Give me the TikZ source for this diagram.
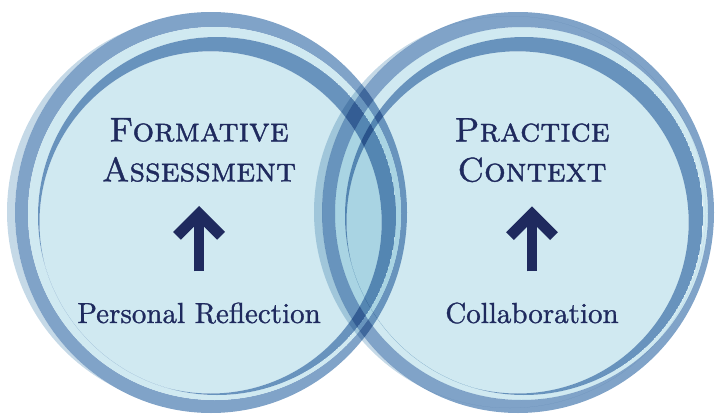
\documentclass[tikz,border=0pt]{standalone}
\usepackage{fontspec}
\newfontfamily\headfont{lmromancaps10-regular}[Extension=.otf, FakeBold=1.2]
\newfontfamily\subfont{lmroman10-regular}[Extension=.otf, FakeBold=1.0]
\usetikzlibrary{arrows.meta, positioning}
\definecolor{paleedge}{HTML}{C5D9E7}
\definecolor{ringmid}{HTML}{80A3C8}
\definecolor{ringdark}{HTML}{6893BD}
\definecolor{discfill}{HTML}{D0E9F1}
\definecolor{inknavy}{HTML}{1F2A5E}

\begin{document}
\begin{tikzpicture}[x=1pt, y=-1pt,
  rings/.pic={
    % pale rim
    \begin{scope}
      \clip (203,212) circle (196);
      \fill[paleedge, even odd rule] (203,212) circle (196) (211,212.5) ellipse (196 and 200.5);
    \end{scope}
    % outer band
    \fill[ringmid, even odd rule] (211,212.5) ellipse (196 and 200.5) (214.5,213.5) circle (186.5);
    % disc and inner crescent
    \fill[discfill, even odd rule] (214.5,213.5) circle (186.5) (217,216) circle (179);
    \begin{scope}
      \clip (217,216) circle (179);
      \fill[discfill] (210.6,222.4) circle (171.1);
      \fill[ringdark, even odd rule] (217,216) circle (179) (210.6,222.4) circle (171.1);
    \end{scope}
  },
  headtext/.style={font=\fontsize{34}{40}\selectfont\headfont, text=inknavy, align=center, inner sep=0pt, anchor=north},
  subtext/.style={font=\fontsize{29}{35}\selectfont\subfont, text=inknavy, inner sep=0pt, anchor=base},
  uparrow/.style={-{Straight Barb[length=22pt, width=44pt, line width=11pt]}, line width=10pt, draw=inknavy}
]
  \useasboundingbox (0,0) rectangle (715,415);

  % Circles
  \pic at (0,0) {rings};
  \begin{scope}[blend mode=multiply]
    \pic at (307,0) {rings};
  \end{scope}

  % Left circle
  \node[headtext] (fa) at (199,118) {Formative\\Assessment};
  \node[subtext] (pr) at (199,323) {Personal Reflection};
  \draw[uparrow, shorten <=31pt, shorten >=24pt] (pr) -- (fa);

  % Right circle
  \node[headtext] (pc) at (532,118) {Practice\\Context};
  \node[subtext] (co) at (532,323) {Collaboration};
  \draw[uparrow, shorten <=31pt, shorten >=24pt] (co) -- (pc);
\end{tikzpicture}
\end{document}
